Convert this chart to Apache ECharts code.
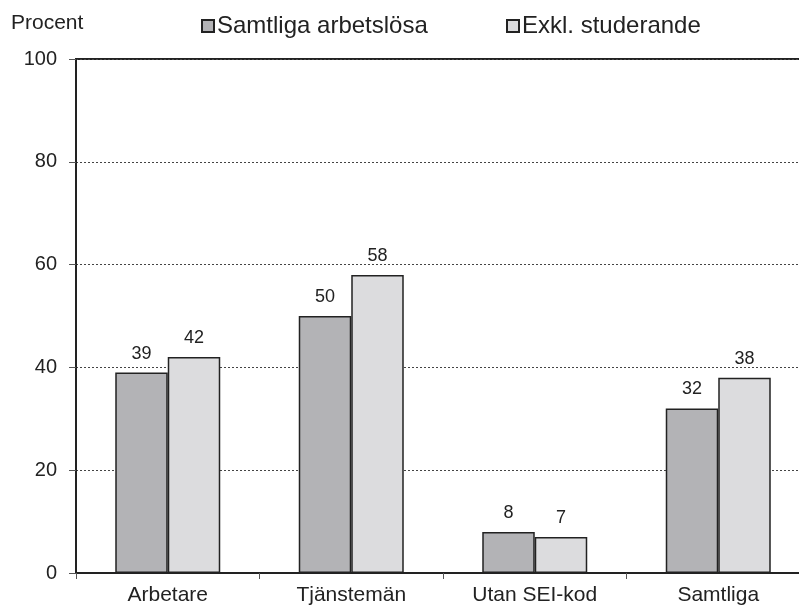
<!DOCTYPE html>
<html><head><meta charset="utf-8">
<script src="https://cdn.jsdelivr.net/npm/echarts@6/dist/echarts.min.js"></script>
<style>html,body{margin:0;padding:0;background:#fff;overflow:hidden;width:799px;height:609px}#c{width:820px;height:609px}</style>
</head><body><div id="c"></div>
<script>
const categories = ['Arbetare', 'Tjänstemän', 'Utan SEI-kod', 'Samtliga'];
const samtliga = [39, 50, 8, 32];
const exkl = [42, 58, 7, 38];
const seriesNames = ['Samtliga arbetslösa', 'Exkl. studerande'];
const yTicks = [0, 20, 40, 60, 80, 100];

const chart = echarts.init(document.getElementById('c'), null, {renderer: 'canvas'});
const font = 'Arial, "Liberation Sans", sans-serif';
const lbl = {show: true, position: 'top', distance: 10, color: '#222', fontSize: 18, fontFamily: font};
const legendBase = {
  top: 9, itemWidth: 12, itemHeight: 12, icon: 'rect',
  itemStyle: {borderColor: '#222', borderWidth: 2},
  textStyle: {fontSize: 24, color: '#222', fontFamily: font, padding: [0, 0, 0, -2]}
};
chart.setOption({
  animation: false,
  backgroundColor: '#fff',
  title: {text: 'Procent', left: 6, top: 8, textStyle: {fontSize: 21, fontWeight: 'normal', color: '#222', fontFamily: font}},
  legend: [
    Object.assign({}, legendBase, {data: [seriesNames[0]], left: 196}),
    Object.assign({}, legendBase, {data: [seriesNames[1]], left: 501})
  ],
  grid: {left: 76, top: 59, width: 734, bottom: 36, show: true, borderColor: '#222', borderWidth: 2},
  xAxis: {
    type: 'category', data: categories,
    axisLine: {lineStyle: {color: '#222', width: 2}},
    axisTick: {show: true, length: 6, lineStyle: {color: '#555'}},
    axisLabel: {fontSize: 21, color: '#222', fontFamily: font, margin: 12}
  },
  yAxis: {
    type: 'value', min: 0, max: 100, interval: 20,
    axisLine: {show: true, lineStyle: {color: '#222', width: 2}},
    axisTick: {show: true, length: 7, lineStyle: {color: '#555'}},
    axisLabel: {fontSize: 20, color: '#222', fontFamily: font, margin: 19,
      formatter: v => yTicks.includes(v) ? String(v) : ''},
    splitLine: {show: true, lineStyle: {color: '#444', type: [2, 2], width: 1}}
  },
  series: [
    {name: seriesNames[0], type: 'bar', data: samtliga, barWidth: 52.5, barGap: '0%',
      itemStyle: {color: '#b3b3b6', borderColor: '#222', borderWidth: 1.5}, label: lbl},
    {name: seriesNames[1], type: 'bar', data: exkl, barWidth: 52.5,
      itemStyle: {color: '#dcdcde', borderColor: '#222', borderWidth: 1.5}, label: lbl}
  ]
});
</script></body></html>
